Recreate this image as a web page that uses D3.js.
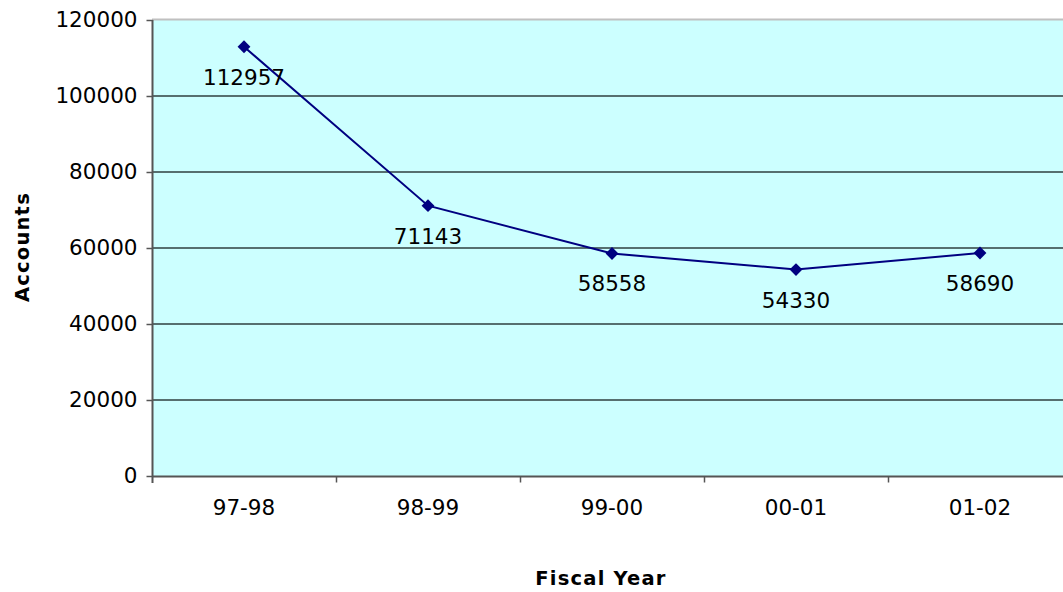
<!DOCTYPE html>
<html>
<head>
<meta charset="utf-8">
<script src="https://cdn.jsdelivr.net/npm/d3@7"></script>
<style>
  html, body { margin: 0; padding: 0; background: #fff; }
  svg { display: block; font-family: Verdana, "DejaVu Sans", sans-serif; }
</style>
</head>
<body>
<svg id="chart" width="1063" height="592"></svg>
<script>
// Accounts per fiscal year
const years = ["97-98", "98-99", "99-00", "00-01", "01-02"];
const accounts = [112957, 71143, 58558, 54330, 58690];
const yTicks = [0, 20000, 40000, 60000, 80000, 100000, 120000];

const svg = d3.select("#chart");
const margin = { left: 152, top: 20, right: -9, bottom: 116 };
const W = 1063, H = 592;
const x0 = margin.left, x1 = W - margin.right;
const y0 = H - margin.bottom, y1 = margin.top;
const fs = 21.5;

const x = d3.scaleBand().domain(years).range([x0, x1]);
const y = d3.scaleLinear().domain([0, 120000]).range([y0, y1]);

// plot background
svg.append("rect")
  .attr("x", x0).attr("y", y1)
  .attr("width", x1 - x0).attr("height", y0 - y1)
  .attr("fill", "#ccffff");

// top border
svg.append("line")
  .attr("x1", x0).attr("x2", x1)
  .attr("y1", y1 - 0.5).attr("y2", y1 - 0.5)
  .attr("stroke", "#c0c0c0").attr("stroke-width", 2);

// horizontal gridlines
svg.append("g").selectAll("line")
  .data(yTicks.filter(t => t > 0 && t < 120000))
  .join("line")
  .attr("x1", x0).attr("x2", x1)
  .attr("y1", d => Math.round(y(d))).attr("y2", d => Math.round(y(d)))
  .attr("stroke", "#2f3f3f").attr("stroke-width", 1.5);

// y axis
const yAxis = svg.append("g")
  .attr("transform", `translate(${x0 + 0.5},0)`)
  .call(d3.axisLeft(y).tickValues(yTicks).tickFormat(d3.format("d")).tickSize(6).tickSizeOuter(0).tickPadding(9));
yAxis.select(".domain").attr("stroke", "#555").attr("stroke-width", 2).attr("d", `M0,${y1}V${y0 + 7}`);
yAxis.selectAll(".tick line").attr("stroke", "#555").attr("stroke-width", 1.5);
yAxis.selectAll(".tick text").attr("font-size", fs).attr("fill", "#000")
  .attr("font-family", "Verdana, 'DejaVu Sans', sans-serif");

// x axis with ticks at category boundaries
const xAxisG = svg.append("g").attr("transform", `translate(0,${y0 + 0.5})`);
xAxisG.append("line")
  .attr("x1", x0).attr("x2", x1)
  .attr("stroke", "#555").attr("stroke-width", 2);
xAxisG.selectAll("line.bt")
  .data(years.slice(1))
  .join("line").attr("class", "bt")
  .attr("x1", d => Math.round(x(d)) + 0.5).attr("x2", d => Math.round(x(d)) + 0.5)
  .attr("y1", 0).attr("y2", 6)
  .attr("stroke", "#555").attr("stroke-width", 1.5);
xAxisG.selectAll("text")
  .data(years)
  .join("text")
  .attr("x", d => x(d) + x.bandwidth() / 2)
  .attr("y", 38)
  .attr("text-anchor", "middle")
  .attr("font-size", fs)
  .attr("fill", "#000")
  .text(d => d);

// line
const cx = d => x(d) + x.bandwidth() / 2;
svg.append("path")
  .datum(years.map((d, i) => [cx(d), y(accounts[i])]))
  .attr("fill", "none")
  .attr("stroke", "#000080")
  .attr("stroke-width", 2)
  .attr("d", d3.line());

// diamond markers
svg.append("g").selectAll("path")
  .data(years)
  .join("path")
  .attr("transform", (d, i) => `translate(${cx(d)},${y(accounts[i])})`)
  .attr("d", d3.symbol().type(d3.symbolDiamond2).size(105))
  .attr("fill", "#000080");

// value labels
svg.append("g").selectAll("text")
  .data(years)
  .join("text")
  .attr("x", d => cx(d))
  .attr("y", (d, i) => y(accounts[i]) + 38)
  .attr("text-anchor", "middle")
  .attr("font-size", fs)
  .attr("fill", "#000")
  .text((d, i) => accounts[i]);

// axis titles
svg.append("text")
  .attr("x", 601).attr("y", 585)
  .attr("text-anchor", "middle")
  .attr("font-size", 19.5)
  .attr("font-weight", "bold")
  .attr("letter-spacing", 1.2)
  .text("Fiscal Year");

svg.append("text")
  .attr("transform", `translate(29,247) rotate(-90)`)
  .attr("text-anchor", "middle")
  .attr("font-size", 19.5)
  .attr("font-weight", "bold")
  .attr("letter-spacing", 1.2)
  .text("Accounts");
</script>
</body>
</html>
